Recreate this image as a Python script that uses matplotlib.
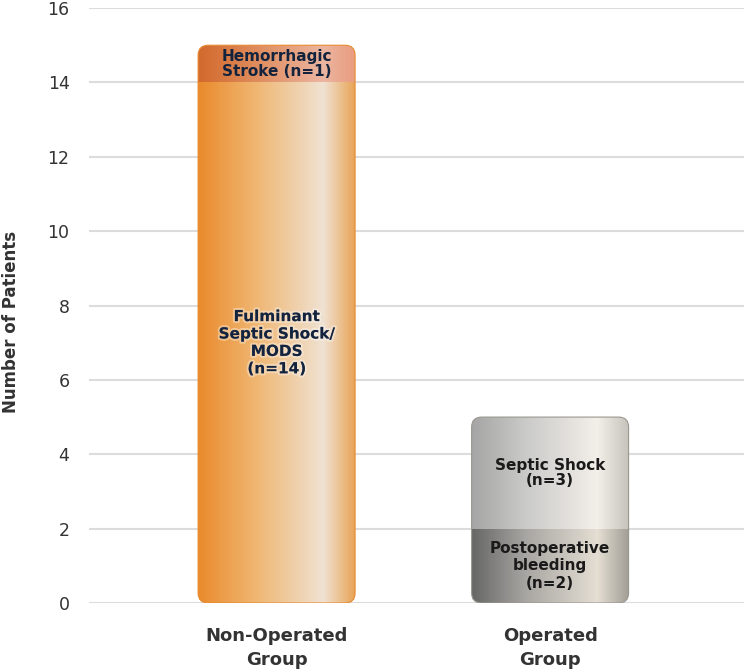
import numpy as np
import matplotlib
matplotlib.use("Agg")
import matplotlib.pyplot as plt
from matplotlib.colors import LinearSegmentedColormap
from matplotlib.patches import FancyBboxPatch
import matplotlib.patheffects as pe

plt.rcParams['font.family'] = ['DejaVu Sans']

groups = ["Non-Operated\nGroup", "Operated\nGroup"]
bottom_values = [14, 2]
top_values = [1, 3]
bottom_labels = ["Fulminant\nSeptic Shock/\nMODS\n(n=14)", "Postoperative\nbleeding\n(n=2)"]
top_labels = ["Hemorrhagic\nStroke (n=1)", "Septic Shock\n(n=3)"]
y_ticks = [0, 2, 4, 6, 8, 10, 12, 14, 16]

# gradient stops across the bar width (left, mid, highlight, right)
grad_bottom = [["#ea8a2c", "#efb46e", "#f0e2d2", "#e8a458"],
               ["#676767", "#a9a7a3", "#e4ded3", "#a29e96"]]
grad_top = [["#d2692c", "#de8a5a", "#ecb5a0", "#e99c80"],
            ["#a5a5a5", "#cbcbc9", "#f3efe9", "#c6c3bd"]]
text_colors = ["#13233d", "#1a1a1a"]
edge_colors = ["#e88a30", "#9a9790"]

fig = plt.figure(figsize=(7.44, 6.70), dpi=100)
ax = fig.add_axes([0.1196, 0.1, 0.8804, 0.888])

x = np.arange(len(groups))
width = 0.574
ax.set_xlim(-0.686, 1.709)
ax.set_ylim(0, 16)

for y in y_ticks:
    ax.axhline(y, color="#dcdcdc", lw=1.5, zorder=0)

# pixel scale for rounded corners
px_x = 273.5
px_y = 37.2
r = 10 / px_x
aspect = px_x / px_y

grad = np.linspace(0, 1, 256).reshape(1, -1)
for i, xc in enumerate(x):
    x0 = xc - width / 2
    total = bottom_values[i] + top_values[i]
    outline = FancyBboxPatch((x0, 0), width, total,
                             boxstyle=f"round,pad=0,rounding_size={r}",
                             mutation_aspect=aspect, facecolor="none",
                             edgecolor=edge_colors[i], lw=0.8, zorder=4)
    ax.add_patch(outline)
    segs = [(0, bottom_values[i], grad_bottom[i]),
            (bottom_values[i], total, grad_top[i])]
    for y0, y1, cols in segs:
        cmap = LinearSegmentedColormap.from_list(
            "g", list(zip([0, 0.35, 0.8, 1.0], cols)))
        im = ax.imshow(grad, cmap=cmap, aspect="auto",
                       extent=(x0, x0 + width, y0, y1), zorder=2)
        im.set_clip_path(outline)
    glow = [pe.withStroke(linewidth=3, foreground=(1, 1, 1, 0.35))] if i == 0 else []
    ax.text(xc, bottom_values[i] / 2, bottom_labels[i], ha="center", va="center",
            fontsize=11, fontweight="bold", color=text_colors[i],
            linespacing=1.2, zorder=5, path_effects=glow)
    ax.text(xc, bottom_values[i] + top_values[i] / 2, top_labels[i], ha="center",
            va="center", fontsize=11, fontweight="bold", color=text_colors[i],
            linespacing=1.05, zorder=5)

ax.set_xticks(x)
ax.set_xticklabels(groups, fontsize=13, fontweight="bold", color="#333333",
                   linespacing=1.45)
ax.set_yticks(y_ticks)
ax.set_yticklabels([str(v) for v in y_ticks], fontsize=12.5, color="#333333")
ax.tick_params(length=0)
ax.tick_params(axis="y", pad=14)
ax.tick_params(axis="x", pad=17)
for s in ax.spines.values():
    s.set_visible(False)
fig.text(0.015, 0.519, "Number of Patients", rotation=90, ha="center",
         va="center", fontsize=12, fontweight="bold", color="#333333")

fig.savefig("out.png", dpi=100)
